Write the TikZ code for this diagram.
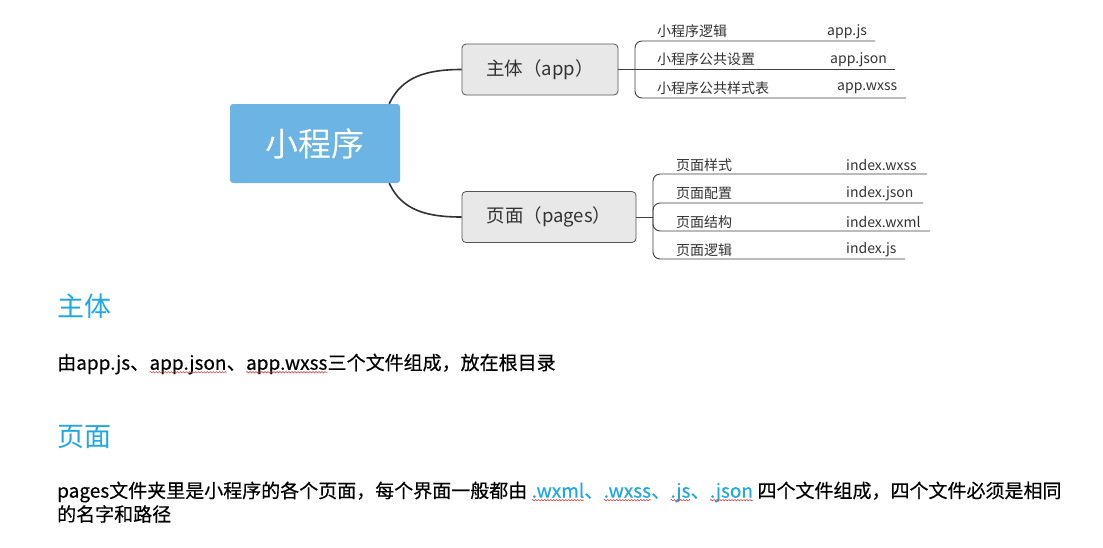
\documentclass[tikz,border=0pt]{standalone}
\usepackage{fontspec}
\setmainfont{Noto Sans CJK SC}
\newfontfamily\bodyfont[FakeBold=0.4]{Noto Sans CJK SC}
\usetikzlibrary{decorations.pathmorphing}
\definecolor{rootblue}{HTML}{6CB4E3}
\definecolor{boxgray}{HTML}{E8E8E8}
\definecolor{boxline}{HTML}{555555}
\definecolor{leaftext}{HTML}{333333}
\definecolor{headblue}{HTML}{1FA8E1}
\definecolor{wavered}{HTML}{D03030}
\newcommand\wv[1]{\tikz[baseline=(wvnode.base)]{\node[inner sep=0pt,outer sep=0pt,text=.] (wvnode) {#1};\draw[wavered,line width=0.5pt,decorate,decoration={snake,amplitude=0.7pt,segment length=3pt}] ([yshift=-2.5pt]wvnode.base west) -- ([yshift=-2.5pt]wvnode.base east);}}
\begin{document}
\begin{tikzpicture}[x=1pt,y=-1pt,
  rootbox/.style={fill=rootblue,rounded corners=3pt,minimum width=170pt,minimum height=79pt,text=white,font=\fontsize{33}{36}\selectfont,inner sep=0pt},
  midbox/.style={fill=boxgray,draw=boxline,line width=0.8pt,rounded corners=4pt,minimum height=51pt,text=leaftext,font=\fontsize{18.5}{21}\selectfont,inner sep=0pt},
  leaf/.style={anchor=west,inner sep=0pt,text=leaftext,font=\fontsize{14}{16}\selectfont},
  link/.style={draw=black!80,line width=1.6pt},
  bline/.style={draw=black!75,line width=0.9pt},
  head/.style={anchor=west,inner sep=0pt,text=headblue,font=\fontsize{27}{30}\selectfont},
  body/.style={anchor=west,inner sep=0pt,text=black,font=\bodyfont\fontsize{19}{22}\selectfont},
]
\useasboundingbox (0,0) rectangle (1103,547);
\fill[white] (0,0) rectangle (1103,547);

% central and branch nodes
\node[rootbox] (root) at (315,143.5) {小程序};
\node[midbox,minimum width=156pt] (app) at (540,69.5) {主体（app）};
\node[midbox,minimum width=174pt] (pages) at (549,217) {页面（pages）};

% curved connectors
\draw[link] ([xshift=-11pt]root.north east) .. controls (402,76) and (428,69.5) .. (app.west);
\draw[link] ([xshift=-11pt]root.south east) .. controls (402,211) and (428,217) .. (pages.west);

% app bracket
\coordinate (ab) at (635,69.5);
\coordinate (a1) at (875,41);
\coordinate (a2) at (895,69.5);
\coordinate (a3) at (906,98);
\draw[bline] (app.east) -- (ab) -- (a2);
\draw[bline,rounded corners=7pt] (a1) -- (635,41) -- (635,98) -- (a3);

\node[leaf] (l1) at (657,31.5) {小程序逻辑};
\node[leaf] (r1) at (827,31.5) {app.js};
\node[leaf] (l2) at (657,59.5) {小程序公共设置};
\node[leaf] (r2) at (830,59.5) {app.json};
\node[leaf] (l3) at (657,88) {小程序公共样式表};
\node[leaf] (r3) at (837,88) {app.wxss};

% pages bracket
\coordinate (pb) at (653,217);
\coordinate (p1) at (927,174);
\coordinate (p2) at (923,203);
\coordinate (p3) at (930,231);
\coordinate (p4) at (905,259);
\draw[bline] (pages.east) -- (pb);
\draw[bline,rounded corners=7pt] (p1) -- (653,174) -- (653,259) -- (p4);
\draw[bline,rounded corners=7pt] (p2) -- (653,203) -- (653,231) -- (p3);

\node[leaf] (m1) at (676,165.5) {页面样式};
\node[leaf] (n1) at (846,165.5) {index.wxss};
\node[leaf] (m2) at (676,193.5) {页面配置};
\node[leaf] (n2) at (846,193.5) {index.json};
\node[leaf] (m3) at (676,222) {页面结构};
\node[leaf] (n3) at (846,222) {index.wxml};
\node[leaf] (m4) at (676,250) {页面逻辑};
\node[leaf] (n4) at (846,250) {index.js};

% text section
\node[head] (h1) at (57,306) {主体};
\node[body] (t1) at (57,364) {由app.js、\wv{app.json}、\wv{app.wxss}三个文件组成，放在根目录};
\node[head] (h2) at (57,437) {页面};
\node[body] (t2) at (57,492) {pages文件夹里是小程序的各个页面，每个界面一般都由 {\color{headblue}\wv{.wxml}、\wv{.wxss}、\wv{.js}、\wv{.json}} 四个文件组成，四个文件必须是相同};
\node[body] (t3) at (57,514) {的名字和路径};
\end{tikzpicture}
\end{document}
